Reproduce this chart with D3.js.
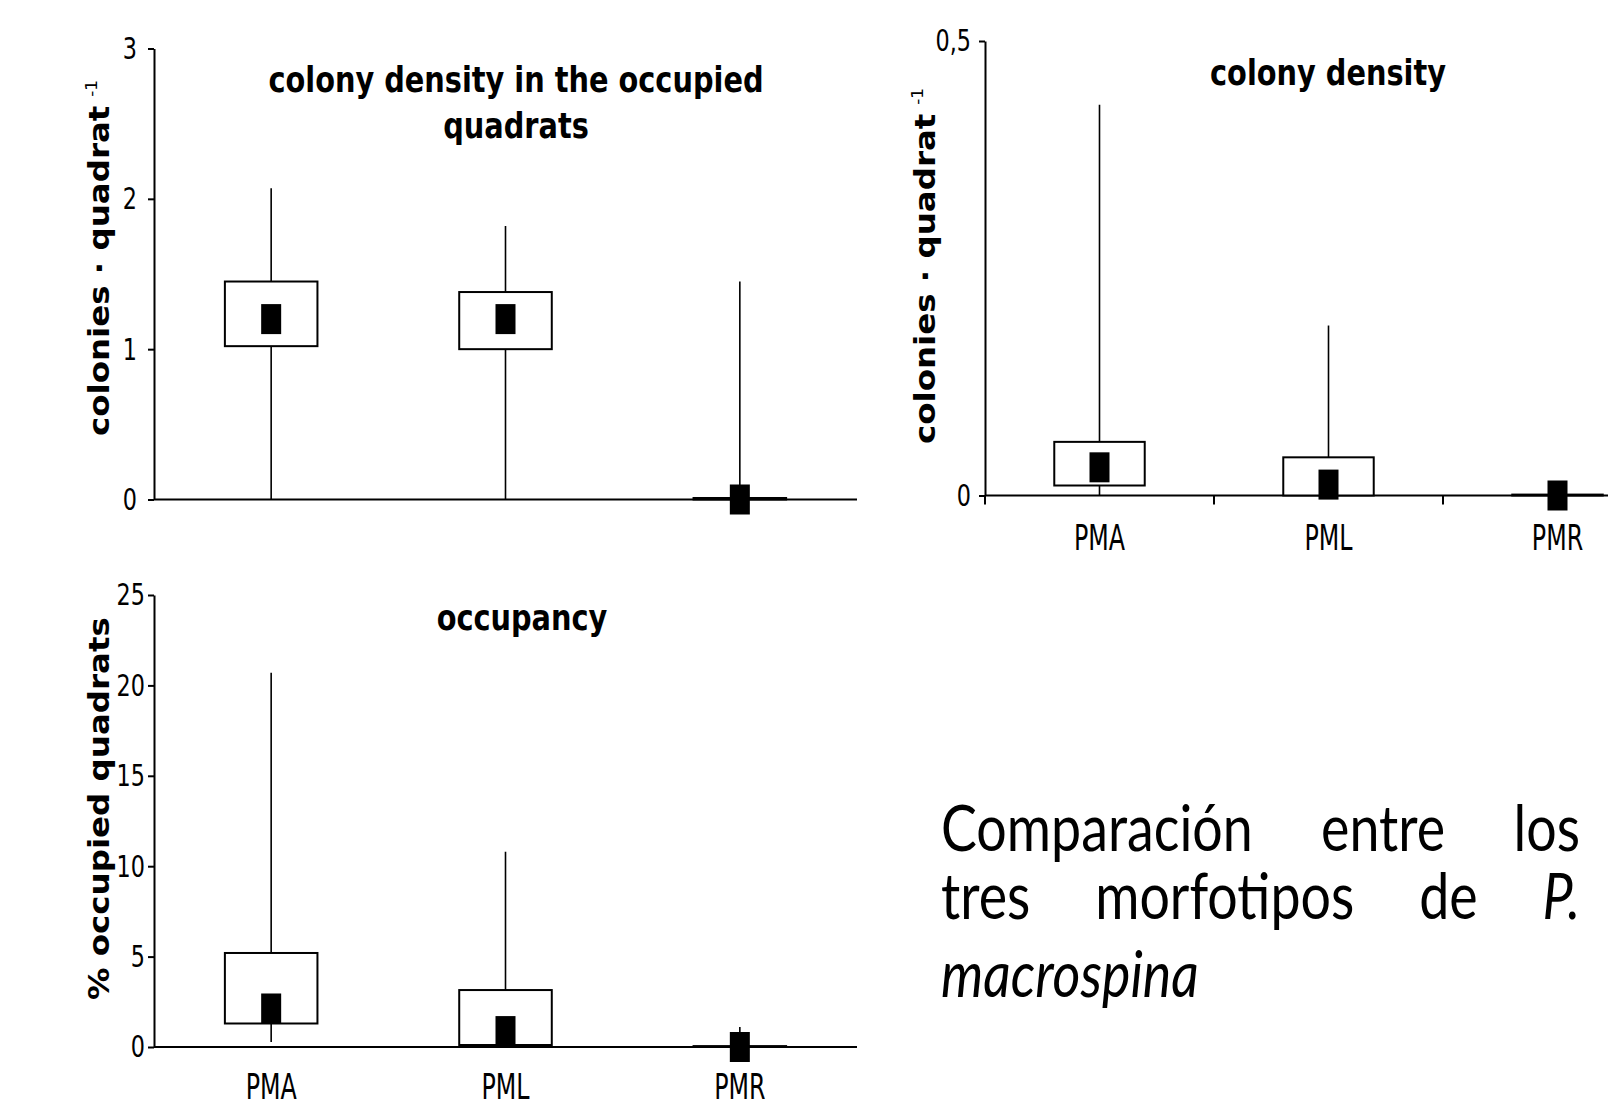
<!DOCTYPE html>
<html>
<head>
<meta charset="utf-8">
<script src="https://cdn.jsdelivr.net/npm/d3@7"></script>
<style>
  body { margin: 0; background: #fff; }
  svg { display: block; }
  .axis path, .axis line { stroke: #000; stroke-width: 2px; }
  .tick text, .cat text { font-family: "DejaVu Sans", Verdana, sans-serif; fill: #000; }
</style>
</head>
<body>
<div id="chart"></div>
<script>
var categories = ["PMA", "PML", "PMR"];

// colony density in the occupied quadrats
var occDensMean     = [1.20, 1.20, 0];
var occDensBoxLow   = [1.02, 1.00, 0];
var occDensBoxHigh  = [1.45, 1.38, 0.01];
var occDensWhiskLow = [0, 0, 0];
var occDensWhiskHigh = [2.07, 1.82, 1.45];
var occDensTicks = [0, 1, 2, 3];

// colony density
var densMean     = [0.031, 0.012, 0];
var densBoxLow   = [0.011, 0, 0];
var densBoxHigh  = [0.059, 0.042, 0.001];
var densWhiskLow = [0, 0, 0];
var densWhiskHigh = [0.43, 0.187, 0];
var densTicks = [0, 0.5];

// occupancy (%)
var occMean     = [2.13, 0.88, 0];
var occBoxLow   = [1.30, 0.11, 0];
var occBoxHigh  = [5.20, 3.15, 0.05];
var occWhiskLow = [0.28, 0.11, 0];
var occWhiskHigh = [20.7, 10.8, 1.1];
var occTicks = [0, 5, 10, 15, 20, 25];

var textLines = [["Comparación", "entre", "los"], ["tres", "morfotipos", "de", "P."], ["macrospina"]];
var italicWords = ["P.", "macrospina"];

var width = 1608, height = 1108;

var svg = d3.select("#chart").append("svg")
    .attr("width", width)
    .attr("height", height);

svg.append("rect").attr("width", width).attr("height", height).attr("fill", "#fff");

function rows(mean, lo, hi, wlo, whi) {
  return categories.map(function (c, i) {
    return {cat: c, mean: mean[i], lo: lo[i], hi: hi[i], wlo: wlo[i], whi: whi[i]};
  });
}

function squeeze(sel, s) {
  // condensed look of the original lettering
  sel.each(function () {
    var t = d3.select(this);
    var x = +t.attr("x") || 0;
    t.attr("x", 0).attr("transform", "translate(" + x + ",0) scale(" + s + ",1)");
  });
}

function drawPanel(p) {
  var x = d3.scaleBand().domain(categories).range(p.xRange);
  var y = d3.scaleLinear().domain(p.yDomain).range(p.yRange);
  var g = svg.append("g");

  // y axis
  var yAxis = d3.axisLeft(y)
      .tickValues(p.ticks)
      .tickSize(6)
      .tickSizeOuter(0)
      .tickPadding(p.tickPad)
      .tickFormat(p.fmt);
  var ya = g.append("g")
      .attr("class", "axis")
      .attr("transform", "translate(" + p.xRange[0] + ",0)")
      .call(yAxis);
  ya.selectAll("text").style("font-size", "31px");
  squeeze(ya.selectAll("text"), 0.72);

  // x axis (labels only, ticks at band edges)
  var xAxis = d3.axisBottom(x).tickSize(0).tickSizeOuter(0).tickPadding(p.catPad);
  var xa = g.append("g")
      .attr("class", "axis cat")
      .attr("transform", "translate(0," + y(0) + ")")
      .call(xAxis);
  xa.select(".domain").attr("d", "M" + p.xRange[0] + ",0H" + p.xRange[1]);
  if (p.showCats) {
    xa.selectAll("text").style("font-size", "36px").attr("dy", "0.71em");
    squeeze(xa.selectAll("text"), 0.66);
  } else {
    xa.selectAll("text").remove();
  }
  if (p.edgeTicks) {
    g.selectAll("line.edge")
      .data(categories)
      .enter().append("line")
      .attr("class", "edge")
      .attr("x1", function (d) { return x(d); })
      .attr("x2", function (d) { return x(d); })
      .attr("y1", y(0))
      .attr("y2", y(0) + 9)
      .attr("stroke", "#000")
      .attr("stroke-width", 2);
  }

  var bw = x.bandwidth() * 0.395;
  var cx = function (d) { return x(d.cat) + x.bandwidth() / 2; };

  var box = g.selectAll("g.box").data(p.data).enter().append("g").attr("class", "box");

  box.append("line")
      .attr("x1", cx).attr("x2", cx)
      .attr("y1", function (d) { return y(d.wlo); })
      .attr("y2", function (d) { return y(d.whi); })
      .attr("stroke", "#000")
      .attr("stroke-width", 1.6);

  box.append("rect")
      .attr("x", function (d) { return cx(d) - bw / 2; })
      .attr("y", function (d) { return y(d.hi); })
      .attr("width", bw)
      .attr("height", function (d) { return y(d.lo) - y(d.hi); })
      .attr("fill", "#fff")
      .attr("stroke", "#000")
      .attr("stroke-width", 2);

  box.append("rect")
      .attr("x", function (d) { return cx(d) - 10; })
      .attr("y", function (d) { return y(d.mean) - 15; })
      .attr("width", 20)
      .attr("height", 30)
      .attr("fill", "#000");

  // title
  var tt = g.append("g").attr("transform", "translate(" + p.titleX + ",0)");
  p.title.forEach(function (line, i) {
    tt.append("text")
      .attr("y", p.titleY[i])
      .attr("transform", "scale(0.8,1)")
      .attr("text-anchor", "middle")
      .style("font-family", "'DejaVu Sans', Verdana, sans-serif")
      .style("font-weight", "bold")
      .style("font-size", "36px")
      .text(line);
  });

  // y label
  var yl = g.append("text")
      .attr("transform", "translate(" + p.labelX + "," + p.labelY + ") rotate(-90) scale(1.12,1)")
      .style("font-family", "'DejaVu Sans', Verdana, sans-serif")
      .style("font-weight", "bold")
      .style("font-size", "29px");
  yl.append("tspan").text(p.yLabel);
  if (p.sup) {
    yl.append("tspan")
      .attr("dx", 8).attr("dy", -12)
      .style("font-weight", "normal")
      .style("font-size", "15px")
      .text(p.sup);
  }
}

drawPanel({
  data: rows(occDensMean, occDensBoxLow, occDensBoxHigh, occDensWhiskLow, occDensWhiskHigh),
  xRange: [154, 857], yRange: [499.5, 48.5], yDomain: [0, 3],
  ticks: occDensTicks, fmt: d3.format("d"), tickPad: 11, catPad: 0,
  showCats: false, edgeTicks: false,
  title: ["colony density in the occupied", "quadrats"], titleX: 516, titleY: [92, 138],
  yLabel: "colonies · quadrat", sup: "-1", labelX: 109, labelY: 436
});

drawPanel({
  data: rows(densMean, densBoxLow, densBoxHigh, densWhiskLow, densWhiskHigh),
  xRange: [985, 1672], yRange: [495.5, 41], yDomain: [0, 0.5],
  ticks: densTicks, fmt: function (d) { return String(d).replace(".", ","); }, tickPad: 8, catPad: 29,
  showCats: true, edgeTicks: true,
  title: ["colony density"], titleX: 1328, titleY: [85],
  yLabel: "colonies · quadrat", sup: "-1", labelX: 935, labelY: 444
});

drawPanel({
  data: rows(occMean, occBoxLow, occBoxHigh, occWhiskLow, occWhiskHigh),
  xRange: [154, 857], yRange: [1047, 595], yDomain: [0, 25],
  ticks: occTicks, fmt: d3.format("d"), tickPad: 3, catPad: 26,
  showCats: true, edgeTicks: false,
  title: ["occupancy"], titleX: 522, titleY: [630],
  yLabel: "% occupied quadrats", sup: null, labelX: 109, labelY: 1000
});

// justified caption
var textLeft = 941, textRight = 1580, textBaselines = [851, 919, 997];
var textScale = 0.84;
var block = svg.append("g")
    .attr("transform", "translate(" + textLeft + ",0) scale(" + textScale + ",1)")
    .style("font-family", "Lato, 'Open Sans', sans-serif")
    .style("font-size", "64px");
var avail = (textRight - textLeft) / textScale;

textLines.forEach(function (words, li) {
  var nodes = words.map(function (w) {
    return block.append("text")
      .attr("y", textBaselines[li])
      .style("font-style", italicWords.indexOf(w) >= 0 ? "italic" : "normal")
      .text(w);
  });
  var widths = nodes.map(function (n) { return n.node().getComputedTextLength(); });
  var last = li === textLines.length - 1;
  var gap = (!last && words.length > 1) ? (avail - d3.sum(widths)) / (words.length - 1) : 0;
  var cx = 0;
  nodes.forEach(function (n, i) { n.attr("x", cx); cx += widths[i] + gap; });
});
</script>
</body>
</html>
